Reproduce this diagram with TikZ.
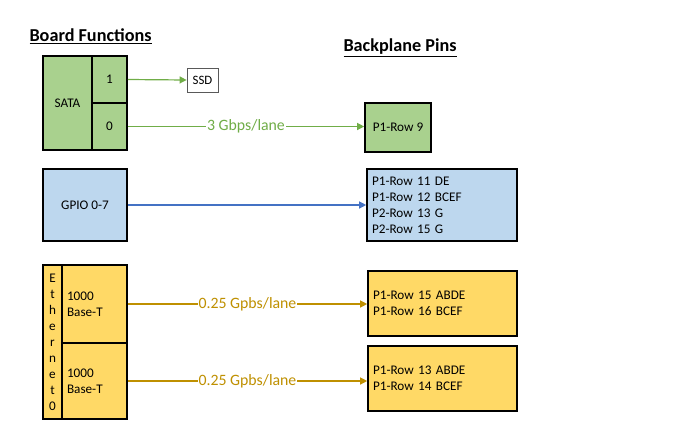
\documentclass[tikz,border=0pt]{standalone}
\usepackage{fontspec}
\setmainfont{Carlito}
\usetikzlibrary{arrows.meta}

\definecolor{satagreen}{HTML}{A9D18E}
\definecolor{linegreen}{HTML}{70AD47}
\definecolor{gpioblue}{HTML}{BDD7EE}
\definecolor{lineblue}{HTML}{4472C4}
\definecolor{ethyellow}{HTML}{FFD966}
\definecolor{linegold}{HTML}{BF9000}

\tikzset{
  blk/.style={draw=black, line width=1.6pt, inner sep=0pt, font=\fontsize{13.2}{16}\selectfont},
  pinbox/.style={blk, align=left, text width=#1, inner xsep=5pt},
  conn/.style={line width=1.2pt, -{Triangle[length=7pt,width=7pt]}},
  lanelabel/.style={midway, fill=white, inner sep=1pt, font=\fontsize{15.8}{17}\selectfont},
  title/.style={anchor=west, font=\fontsize{18.2}{20}\selectfont\bfseries}
}

\begin{document}
\begin{tikzpicture}[x=1pt,y=-1pt]
  \useasboundingbox (0,0) rectangle (698,440);

  % headings
  \node[title] (boardtitle) at (26,36) {\underline{Board Functions}};
  \node[title] (pinstitle) at (340,48) {\underline{Backplane Pins}};

  % SATA
  \node[blk, fill=satagreen, minimum width=49pt, minimum height=94pt] (sata) at (67.5,103) {SATA};
  \node[blk, fill=satagreen, minimum width=35pt, minimum height=47pt] (sataone) at (109.5,79.5) {1};
  \node[blk, fill=satagreen, minimum width=35pt, minimum height=47pt] (satazero) at (109.5,126.5) {0};
  \node[draw=black!65, line width=0.8pt, fill=white, minimum width=31pt, minimum height=24pt, font=\fontsize{12.8}{14}\selectfont] (ssd) at (202.5,80) {SSD};
  \node[blk, fill=satagreen, minimum width=66pt, minimum height=49pt] (rownine) at (398,127.5) {P1-Row 9};

  \draw[conn, linegreen] (sataone.east) -- (ssd.west);
  \draw[conn, linegreen] (satazero.east) -- (satazero.east -| rownine.west)
    node[lanelabel, text=linegreen] {3 Gbps/lane};

  % GPIO
  \node[blk, fill=gpioblue, minimum width=84pt, minimum height=72pt] (gpio) at (85,205) {GPIO 0-7};
  \node[pinbox=140pt, fill=gpioblue, minimum height=72pt] (gpiopins) at (442,205)
    {P1-Row 11 DE\\P1-Row 12 BCEF\\P2-Row 13 G\\P2-Row 15 G};

  \draw[conn, lineblue] (gpio.east) -- (gpiopins.west);

  % Ethernet
  \node[blk, fill=ethyellow, minimum width=19pt, minimum height=154pt, align=center] (eth) at (52.5,342)
    {E\\t\\h\\e\\r\\n\\e\\t\\0};
  \node[pinbox=55pt, fill=ethyellow, minimum height=78pt] (ethone) at (94.5,304) {1000\\Base-T};
  \node[pinbox=55pt, fill=ethyellow, minimum height=76pt] (ethtwo) at (94.5,381) {1000\\Base-T};
  \node[pinbox=139pt, fill=ethyellow, minimum height=65pt] (pinsa) at (442.5,303.5)
    {P1-Row 15 ABDE\\P1-Row 16 BCEF};
  \node[pinbox=139pt, fill=ethyellow, minimum height=65pt] (pinsb) at (442.5,378.5)
    {P1-Row 13 ABDE\\P1-Row 14 BCEF};

  \draw[conn, linegold] (ethone.east) -- (ethone.east -| pinsa.west)
    node[lanelabel, text=linegold] {0.25 Gpbs/lane};
  \draw[conn, linegold] (ethtwo.east) -- (ethtwo.east -| pinsb.west)
    node[lanelabel, text=linegold] {0.25 Gpbs/lane};

\end{tikzpicture}
\end{document}
